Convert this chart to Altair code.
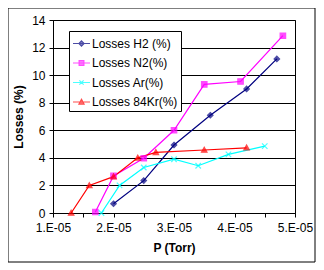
import altair as alt
import pandas as pd

series = ["Losses H2 (%)", "Losses N2(%)", "Losses Ar(%)", "Losses 84Kr(%)"]
colors = ["#000080", "#FF00FF", "#00FFFF", "#FF0000"]

h2_p = [2.0e-5, 2.5e-5, 3.0e-5, 3.6e-5, 4.2e-5, 4.7e-5]
h2_l = [0.67, 2.35, 4.93, 7.09, 9.0, 11.18]
n2_p = [1.7e-5, 2.0e-5, 2.5e-5, 3.0e-5, 3.5e-5, 4.1e-5, 4.8e-5]
n2_l = [0.07, 2.69, 3.97, 6.0, 9.33, 9.54, 12.86]
ar_p = [1.8e-5, 2.1e-5, 2.5e-5, 3.0e-5, 3.4e-5, 3.9e-5, 4.5e-5]
ar_l = [0.0, 2.0, 3.3, 3.9, 3.43, 4.25, 4.85]
kr_p = [1.3e-5, 1.6e-5, 2.0e-5, 2.4e-5, 2.7e-5, 3.5e-5, 4.2e-5]
kr_l = [0.0, 2.0, 2.64, 4.0, 4.4, 4.57, 4.73]

x_ticks = [1.0e-5, 1.5e-5, 2.0e-5, 2.5e-5, 3.0e-5, 3.5e-5, 4.0e-5, 4.5e-5, 5.0e-5]
y_ticks = [0, 2, 4, 6, 8, 10, 12, 14]

marker_paths = [
    "M0,-1L1,0L0,1L-1,0Z",
    "M-1,-1H1V1H-1Z",
    "M-1,-1L1,1M-1,1L1,-1",
    "M0,-1L1,0.8L-1,0.8Z",
]
legend_paths = [
    "M-1,0H1M0,-0.3L0.3,0L0,0.3L-0.3,0Z",
    "M-1,0H1M-0.28,-0.28H0.28V0.28H-0.28Z",
    "M-1,0H1M-0.25,-0.25L0.25,0.25M-0.25,0.25L0.25,-0.25",
    "M-1,0H1M0,-0.32L0.3,0.24L-0.3,0.24Z",
]

rows = []
for name, ps, ls in [(series[0], h2_p, h2_l), (series[1], n2_p, n2_l),
                     (series[2], ar_p, ar_l), (series[3], kr_p, kr_l)]:
    for i, (p, l) in enumerate(zip(ps, ls)):
        rows.append({"series": name, "P": p, "L": l, "i": i})
df = pd.DataFrame(rows)

FONT = "Liberation Sans"

x_axis = alt.Axis(values=x_ticks, title="P (Torr)", grid=False,
                  labelExpr="round(datum.value*2e5) % 2 == 0 ? round(datum.value*1e5) + '.E-05' : ''",
                  tickSize=4, labelPadding=5, titlePadding=9,
                  labelFontSize=12, titleFontSize=12, titleFontWeight="bold",
                  labelFont=FONT, titleFont=FONT, labelColor="black", titleColor="black",
                  domainColor="black", tickColor="black", labelFlush=False, labelOverlap=False)
y_axis = alt.Axis(values=y_ticks, title="Losses (%)", grid=True, gridColor="black",
                  gridOpacity=1, tickSize=4, labelPadding=4, titlePadding=6,
                  labelFontSize=12, titleFontSize=12, titleFontWeight="bold",
                  labelFont=FONT, titleFont=FONT, labelColor="black", titleColor="black",
                  domainColor="black", tickColor="black", labelOverlap=False)

x_scale = alt.Scale(domain=[1e-5, 5e-5], nice=False)
y_scale = alt.Scale(domain=[0, 14], nice=False)


def xe():
    return alt.X("P:Q", scale=x_scale, axis=x_axis)


def ye():
    return alt.Y("L:Q", scale=y_scale, axis=y_axis)


color_scale = alt.Scale(domain=series, range=colors)

lines = alt.Chart(df).mark_line(strokeWidth=1.2).encode(
    x=xe(), y=ye(),
    color=alt.Color("series:N", scale=color_scale, legend=None),
    order="i:O",
)

points = alt.Chart(df).mark_point(filled=False, size=30, strokeWidth=1.2).encode(
    x=xe(), y=ye(),
    fill=alt.Fill("series:N", scale=alt.Scale(domain=series, range=colors), legend=None),
    stroke=alt.Stroke("series:N", scale=alt.Scale(domain=series, range=colors), legend=None),
    shape=alt.Shape("series:N", scale=alt.Scale(domain=series, range=marker_paths), legend=None),
)

legend_layer = alt.Chart(df).transform_filter("false").mark_point(filled=False, strokeWidth=1.2).encode(
    x=xe(), y=ye(),
    fill=alt.Fill("series:N", scale=alt.Scale(domain=series, range=colors),
                  legend=alt.Legend(title=None)),
    stroke=alt.Stroke("series:N", scale=alt.Scale(domain=series, range=colors),
                      legend=alt.Legend(title=None)),
    shape=alt.Shape("series:N", scale=alt.Scale(domain=series, range=legend_paths),
                    legend=alt.Legend(title=None, orient="none", legendX=16, legendY=11,
                                      symbolSize=289, symbolStrokeWidth=1.2,
                                      labelFont=FONT, labelFontSize=12, labelColor="black",
                                      labelOffset=1, rowPadding=3.5, padding=3,
                                      strokeColor="black", fillColor="white")),
)

border = alt.Chart(pd.DataFrame({"a": [0]})).mark_rect(fill=None, stroke="black", strokeWidth=1).encode(
    x=alt.value(-45), x2=alt.value(262), y=alt.value(-12), y2=alt.value(242)
)

chart = alt.layer(lines, points, legend_layer, border).resolve_scale(
    shape="independent", fill="independent", stroke="independent"
).resolve_legend(shape="independent").properties(
    width=242, height=193,
    autosize=alt.AutoSizeParams(type="none"),
    padding={"left": 45, "top": 12, "right": 21, "bottom": 50},
    background="white",
).configure_view(stroke="black", strokeWidth=1)

chart.save("out.html", embed_options={"renderer": "svg", "actions": False})
